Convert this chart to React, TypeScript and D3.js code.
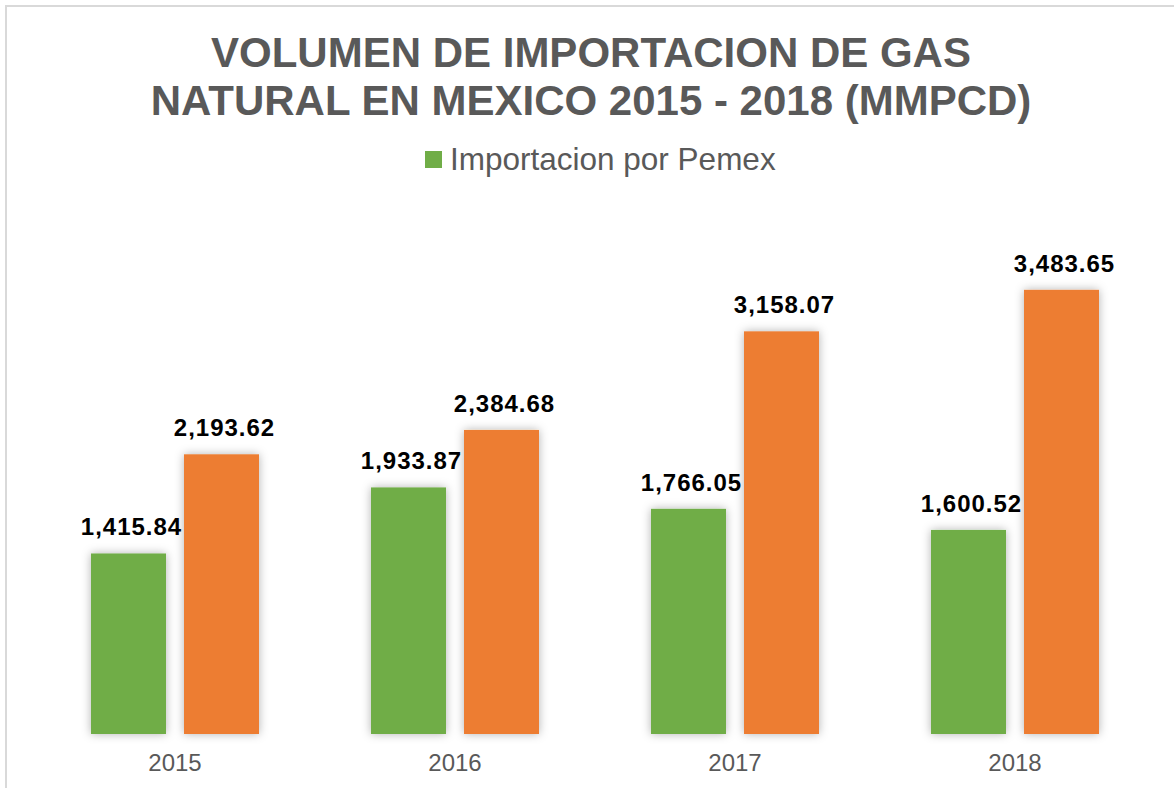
import React from "react";
import * as d3 from "d3";

const years = ["2015", "2016", "2017", "2018"];
const pemexValues = [1415.84, 1933.87, 1766.05, 1600.52];
const otherValues = [2193.62, 2384.68, 3158.07, 3483.65];
const titleLines = ["VOLUMEN DE IMPORTACION DE GAS", "NATURAL EN MEXICO 2015 - 2018 (MMPCD)"];
const legendLabel = "Importacion por Pemex";

const W = 1174;
const H = 788;
const GREEN = "#70AD47";
const ORANGE = "#ED7D31";
const GRAY = "#595959";
const FONT = "'Liberation Sans', Arial, sans-serif";

const fmt = d3.format(",.2f");

export default function App() {
  const x = d3.scaleBand<string>().domain(years).range([35, 1155]).padding(0);
  const y = d3.scaleLinear().domain([0, 4000]).range([734, 224]);
  const barW = 75;
  const gap = 18;

  const bars = years.flatMap((yr, i) => {
    const c = (x(yr) as number) + x.bandwidth() / 2;
    return [
      { key: yr + "g", x: c - gap / 2 - barW, v: pemexValues[i], color: GREEN },
      { key: yr + "o", x: c + gap / 2, v: otherValues[i], color: ORANGE },
    ];
  });

  return (
    <svg
      width={W}
      height={H}
      style={{ position: "absolute", left: 0, top: 0, background: "#fff" }}
      fontFamily={FONT}
    >
      <defs>
        <filter id="sh" x="-30%" y="-10%" width="160%" height="120%">
          <feDropShadow dx="0" dy="0" stdDeviation="5" floodColor="#000" floodOpacity="0.3" />
        </filter>
      </defs>
      <rect x={0} y={0} width={W} height={H} fill="#fff" />
      <rect x={6} y={6} width={W + 20} height={H + 20} fill="#fff" stroke="#d9d9d9" strokeWidth={2} />

      {titleLines.map((t, i) => (
        <text
          key={t}
          x={591}
          y={67 + i * 48}
          textAnchor="middle"
          fontSize={42}
          fontWeight="bold"
          fill={GRAY}
        >
          {t}
        </text>
      ))}

      <rect x={425} y={151} width={17} height={17} fill={GREEN} />
      <text x={450} y={170} fontSize={31.5} fill={GRAY}>
        {legendLabel}
      </text>

      <g filter="url(#sh)">
        {bars.map((b) => (
          <rect key={b.key} x={b.x} y={y(b.v)} width={barW} height={y(0) - y(b.v)} fill={b.color} />
        ))}
      </g>

      {bars.map((b) => (
        <text
          key={b.key + "l"}
          x={b.x + barW / 2 + 3}
          y={y(b.v) - 18}
          textAnchor="middle"
          fontSize={24}
          fontWeight="bold"
          letterSpacing={1}
          fill="#000"
        >
          {fmt(b.v)}
        </text>
      ))}

      {years.map((yr) => (
        <text
          key={yr}
          x={(x(yr) as number) + x.bandwidth() / 2}
          y={771}
          textAnchor="middle"
          fontSize={24}
          fill={GRAY}
        >
          {yr}
        </text>
      ))}
    </svg>
  );
}
